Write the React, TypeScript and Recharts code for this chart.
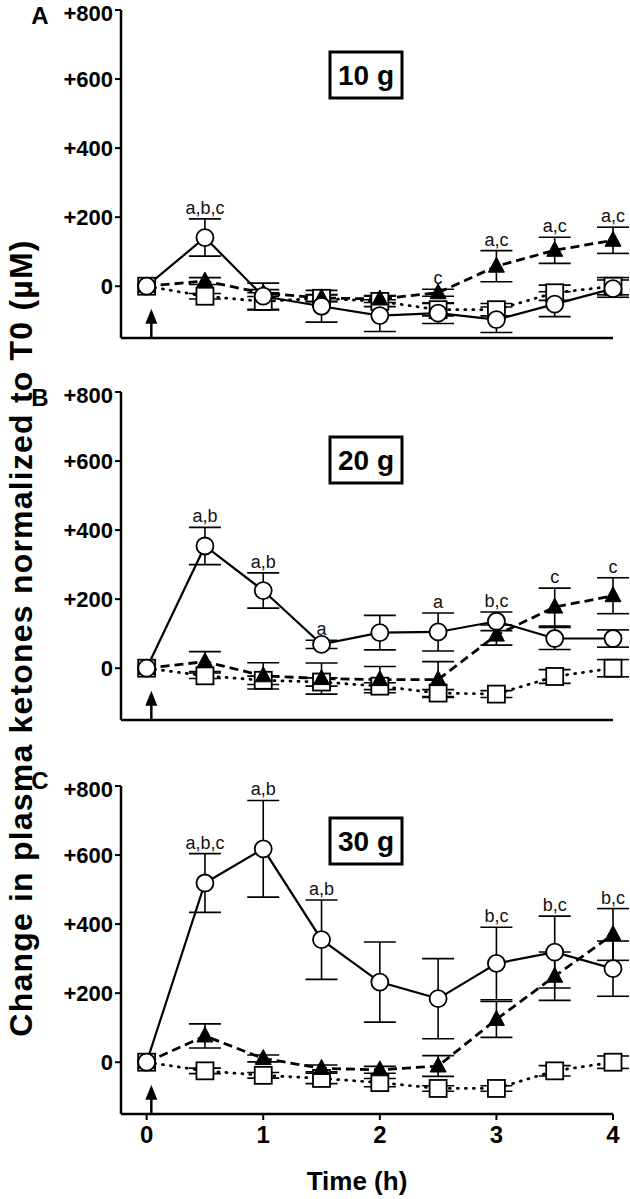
import React from "react";
import {
  ErrorBar,
  Line,
  LineChart,
  ReferenceDot,
  ReferenceLine,
  XAxis,
  YAxis,
} from "recharts";

const FONT = "Arial, 'Liberation Sans', Helvetica, sans-serif";

// time points (h)
const times = [0, 0.5, 1, 1.5, 2, 2.5, 3, 3.5, 4];
const yTicks = [0, 200, 400, 600, 800];
const xTicks = [0, 1, 2, 3, 4];

// Panel A - 10 g
const circA = [0, 141, -29, -58, -85, -78, -97, -52, -7];
const circErrA = [0, 54, 38, 46, 46, 30, 37, 36, 25];
const triA = [0, 15, -20, -34, -37, -19, 58, 104, 133];
const triErrA = [0, 10, 10, 10, 10, 10, 45, 38, 38];
const sqA = [0, -29, -44, -35, -44, -68, -68, -19, 0];
const sqErrA = [0, 8, 25, 10, 15, 18, 18, 22, 25];
const sigA = [
  { t: 0.5, text: "a,b,c", on: "circ" },
  { t: 2.5, text: "c", on: "tri" },
  { t: 3, text: "a,c", on: "tri" },
  { t: 3.5, text: "a,c", on: "tri" },
  { t: 4, text: "a,c", on: "tri" },
];

// Panel B - 20 g
const circB = [0, 354, 225, 69, 103, 105, 136, 86, 86];
const circErrB = [0, 54, 51, 12, 50, 55, 27, 32, 25];
const triB = [0, 19, -22, -30, -33, -33, 96, 177, 210];
const triErrB = [0, 29, 38, 45, 38, 52, 29, 55, 52];
const sqB = [0, -22, -35, -40, -52, -72, -75, -24, 0];
const sqErrB = [0, 8, 12, 12, 10, 10, 10, 20, 25];
const sigB = [
  { t: 0.5, text: "a,b", on: "circ" },
  { t: 1, text: "a,b", on: "circ" },
  { t: 1.5, text: "a", on: "circ" },
  { t: 2.5, text: "a", on: "circ" },
  { t: 3, text: "b,c", on: "circ" },
  { t: 3.5, text: "c", on: "tri" },
  { t: 4, text: "c", on: "tri" },
];

// Panel C - 30 g
const circC = [0, 519, 618, 355, 232, 184, 286, 319, 271];
const circErrC = [0, 85, 140, 115, 116, 116, 105, 104, 80];
const triC = [0, 76, 11, -18, -22, -11, 124, 249, 370];
const triErrC = [0, 35, 10, 10, 10, 30, 52, 70, 75];
const sqC = [0, -25, -38, -47, -59, -76, -76, -25, 0];
const sqErrC = [0, 8, 8, 15, 12, 8, 8, 15, 18];
const sigC = [
  { t: 0.5, text: "a,b,c", on: "circ" },
  { t: 1, text: "a,b", on: "circ" },
  { t: 1.5, text: "a,b", on: "circ" },
  { t: 3, text: "b,c", on: "circ" },
  { t: 3.5, text: "b,c", on: "circ" },
  { t: 4, text: "b,c", on: "tri" },
];

const circleDot = (p: any) => (
  <circle key={`c${p.index}`} cx={p.cx} cy={p.cy} r={8.5} fill="#fff" stroke="#000" strokeWidth={1.8} />
);
const squareDot = (p: any) => (
  <rect key={`s${p.index}`} x={p.cx - 8.5} y={p.cy - 8.5} width={17} height={17} fill="#fff" stroke="#000" strokeWidth={1.8} />
);
const triangleDot = (p: any) => (
  <polygon
    key={`t${p.index}`}
    points={`${p.cx},${p.cy - 9} ${p.cx - 8},${p.cy + 6} ${p.cx + 8},${p.cy + 6}`}
    fill="#000"
    stroke="#000"
    strokeWidth={1}
  />
);

const Arrow = (p: any) => {
  const { x1, y1, x2, y2 } = p;
  const top = Math.min(y1, y2);
  const bottom = Math.max(y1, y2);
  return (
    <g>
      <line x1={x1} x2={x2} y1={bottom} y2={top + 10} stroke="#000" strokeWidth={2.5} />
      <polygon points={`${x1},${top} ${x1 - 6},${top + 15} ${x1 + 6},${top + 15}`} fill="#000" />
    </g>
  );
};

function Panel({
  top,
  circ,
  circErr,
  tri,
  triErr,
  sq,
  sqErr,
  sig,
  showX,
}: any) {
  const data = times.map((t, i) => ({
    t,
    circ: circ[i],
    circErr: circErr[i],
    tri: tri[i],
    triErr: triErr[i],
    sq: sq[i],
    sqErr: sqErr[i],
  }));
  const xH = showX ? 44 : 12;
  return (
    <div style={{ position: "absolute", left: 0, top: top - 10 }}>
      <LineChart width={630} height={10 + 328 + xH} data={data} margin={{ top: 10, right: 17, bottom: 0, left: 0 }}>
        <XAxis
          dataKey="t"
          type="number"
          domain={[-0.22, 4]}
          ticks={xTicks}
          height={xH}
          axisLine={{ stroke: "#000", strokeWidth: 2.5 }}
          tickLine={{ stroke: "#000", strokeWidth: 2 }}
          tickSize={6}
          tickMargin={6}
          tick={showX ? { fill: "#000", fontSize: 24, fontWeight: 700, fontFamily: FONT } : false}
        />
        <YAxis
          type="number"
          domain={[-150, 800]}
          ticks={yTicks}
          width={121}
          axisLine={{ stroke: "#000", strokeWidth: 2.5 }}
          tickLine={{ stroke: "#000", strokeWidth: 2 }}
          tickSize={6}
          tickMargin={2}
          tick={{ fill: "#000", fontSize: 22, fontWeight: 700, fontFamily: FONT }}
          tickFormatter={(v: number) => (v === 0 ? "0" : `+${v}`)}
        />
        <ReferenceLine
          segment={[
            { x: 0.04, y: -150 },
            { x: 0.04, y: -65 },
          ]}
          shape={Arrow}
        />
        <Line
          dataKey="sq"
          stroke="#000"
          strokeWidth={2.8}
          strokeDasharray="1 7"
          strokeLinecap="round"
          dot={squareDot}
          isAnimationActive={false}
        >
          <ErrorBar dataKey="sqErr" direction="y" width={16} stroke="#000" strokeWidth={1.6} />
        </Line>
        <Line
          dataKey="tri"
          stroke="#000"
          strokeWidth={2.8}
          strokeDasharray="9 5"
          dot={triangleDot}
          isAnimationActive={false}
        >
          <ErrorBar dataKey="triErr" direction="y" width={16} stroke="#000" strokeWidth={1.6} />
        </Line>
        <Line dataKey="circ" stroke="#000" strokeWidth={2.2} dot={circleDot} isAnimationActive={false}>
          <ErrorBar dataKey="circErr" direction="y" width={16} stroke="#000" strokeWidth={1.6} />
        </Line>
        {sig.map((s: any) => {
          const i = times.indexOf(s.t);
          const y = s.on === "circ" ? circ[i] + circErr[i] : tri[i] + triErr[i];
          return (
            <ReferenceDot
              key={`${s.t}-${s.text}`}
              x={s.t}
              y={y}
              r={0.01}
              fill="none"
              stroke="none"
              label={{ value: s.text, position: "top", offset: 5, fill: "#111", fontSize: 18, fontFamily: FONT }}
            />
          );
        })}
      </LineChart>
    </div>
  );
}

const boxes = [
  { label: "10 g", y: 52 },
  { label: "20 g", y: 437 },
  { label: "30 g", y: 818 },
];
const letters = [
  { label: "A", y: 15 },
  { label: "B", y: 397 },
  { label: "C", y: 780 },
];

export default function App() {
  return (
    <div style={{ position: "absolute", left: 0, top: 0, width: 630, height: 1199, background: "#fff" }}>
      <Panel top={10} circ={circA} circErr={circErrA} tri={triA} triErr={triErrA} sq={sqA} sqErr={sqErrA} sig={sigA} />
      <Panel top={392} circ={circB} circErr={circErrB} tri={triB} triErr={triErrB} sq={sqB} sqErr={sqErrB} sig={sigB} />
      <Panel top={786} circ={circC} circErr={circErrC} tri={triC} triErr={triErrC} sq={sqC} sqErr={sqErrC} sig={sigC} showX />
      <svg width={630} height={1199} style={{ position: "absolute", left: 0, top: 0, pointerEvents: "none" }}>
        {boxes.map((b) => (
          <g key={b.label}>
            <rect x={330} y={b.y} width={72} height={46} fill="#fff" stroke="#000" strokeWidth={3} />
            <text
              x={366}
              y={b.y + 23}
              textAnchor="middle"
              dominantBaseline="central"
              fontFamily={FONT}
              fontWeight={700}
              fontSize={28}
              fill="#000"
            >
              {b.label}
            </text>
          </g>
        ))}
        {letters.map((l) => (
          <text
            key={l.label}
            x={40}
            y={l.y}
            textAnchor="middle"
            dominantBaseline="central"
            fontFamily={FONT}
            fontWeight={700}
            fontSize={24}
            fill="#000"
          >
            {l.label}
          </text>
        ))}
        <text
          x={32}
          y={638}
          transform="rotate(-90 32 638)"
          textAnchor="middle"
          fontFamily={FONT}
          fontWeight={700}
          fontSize={32}
          letterSpacing={1.2}
          fill="#000"
        >
          Change in plasma ketones normalized to T0 (µM)
        </text>
        <text x={357} y={1190} textAnchor="middle" fontFamily={FONT} fontWeight={700} fontSize={26} fill="#000">
          Time (h)
        </text>
      </svg>
    </div>
  );
}
